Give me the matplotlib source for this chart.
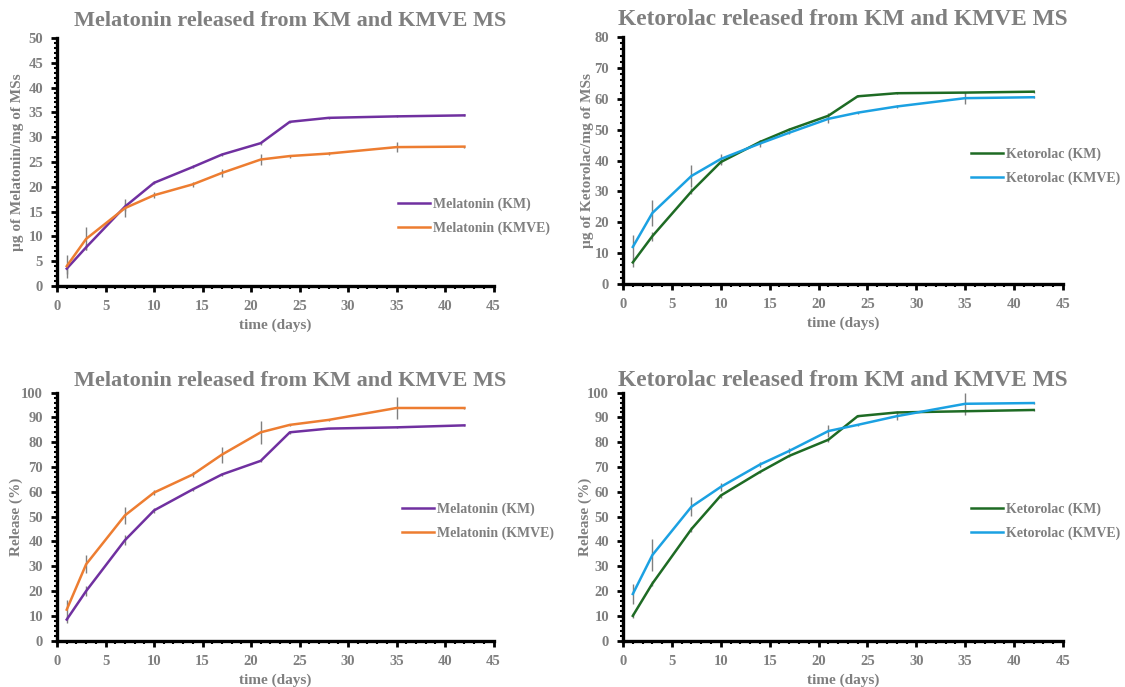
import matplotlib
matplotlib.use("Agg")
import matplotlib.pyplot as plt
from matplotlib.ticker import MultipleLocator

plt.rcParams.update({
    "font.family": "serif",
    "font.serif": ["Liberation Serif", "DejaVu Serif"],
    "font.weight": "bold",
})

GREY = "#7F7F7F"
PURPLE = "#7030A0"
ORANGE = "#ED7D31"
GREEN = "#1E6B24"
BLUE = "#1BA1E2"

DAYS = [1, 3, 7, 10, 14, 17, 21, 24, 28, 35, 42]

# top-left: melatonin amount (ug / mg MSs)
MEL_KM_UG = [3.5, 7.8, 16.0, 20.8, 24.0, 26.5, 28.8, 33.1, 33.9, 34.2, 34.4]
MEL_KM_UG_ERR = [1.0, 0.6, 0.8, 0.3, 0.3, 0.3, 0.3, 0.2, 0.2, 0.2, 0.2]
MEL_KMVE_UG = [4.0, 9.5, 15.7, 18.3, 20.5, 22.8, 25.5, 26.2, 26.7, 28.0, 28.1]
MEL_KMVE_UG_ERR = [2.3, 2.3, 1.8, 0.6, 0.5, 0.8, 1.2, 0.3, 0.3, 1.0, 0.2]

# top-right: ketorolac amount (ug / mg MSs)
KET_KM_UG = [7.0, 15.5, 30.0, 39.5, 46.0, 50.0, 54.5, 60.8, 61.8, 62.0, 62.3]
KET_KM_UG_ERR = [1.5, 1.5, 1.0, 0.8, 0.5, 0.5, 0.8, 0.3, 0.3, 0.3, 0.3]
KET_KMVE_UG = [12.0, 23.0, 35.0, 40.5, 45.5, 49.0, 53.5, 55.5, 57.5, 60.2, 60.5]
KET_KMVE_UG_ERR = [4.0, 4.2, 3.5, 1.5, 1.0, 0.5, 1.5, 0.3, 0.4, 1.8, 0.3]

# bottom-left: melatonin release (%)
MEL_KM_PCT = [8.5, 20.0, 40.5, 52.5, 61.0, 67.0, 72.5, 84.0, 85.5, 86.0, 86.8]
MEL_KM_PCT_ERR = [1.5, 2.0, 2.0, 1.0, 0.5, 0.5, 0.5, 0.5, 0.3, 0.3, 0.3]
MEL_KMVE_PCT = [12.5, 30.8, 50.5, 59.7, 67.0, 75.0, 84.0, 87.0, 89.0, 93.8, 93.8]
MEL_KMVE_PCT_ERR = [4.0, 3.7, 3.4, 1.0, 1.0, 3.2, 4.6, 0.5, 0.4, 4.5, 0.3]

# bottom-right: ketorolac release (%)
KET_KM_PCT = [10.0, 23.0, 45.0, 58.5, 68.0, 74.5, 81.0, 90.5, 92.0, 92.5, 93.0]
KET_KM_PCT_ERR = [1.0, 1.0, 1.0, 0.8, 0.5, 0.5, 0.8, 0.5, 0.5, 0.3, 0.3]
KET_KMVE_PCT = [18.8, 34.5, 54.0, 62.0, 71.0, 76.5, 84.5, 87.0, 90.5, 95.5, 95.8]
KET_KMVE_PCT_ERR = [4.2, 6.5, 3.8, 1.5, 1.0, 1.0, 2.5, 0.5, 1.5, 4.4, 0.3]

TITLE_MEL = "Melatonin released from KM and KMVE MS"
TITLE_KET = "Ketorolac released from KM and KMVE MS"


def draw(ax, series, ymax, ymajor, yminor, ylabel, ylabel_x, title, legend_xy,
         title_x, title_size, title_pad):
    handles, labels = [], []
    for y, err, color, label in series:
        cont = ax.errorbar(DAYS, y, yerr=err, color=color, lw=1.8, ecolor=GREY,
                           elinewidth=1.0, capsize=0, zorder=3)
        handles.append(cont[0])
        labels.append(label)
    ax.set_xlim(0, 45)
    ax.set_ylim(0, ymax)
    ax.xaxis.set_major_locator(MultipleLocator(5))
    ax.xaxis.set_minor_locator(MultipleLocator(1))
    ax.yaxis.set_major_locator(MultipleLocator(ymajor))
    ax.yaxis.set_minor_locator(MultipleLocator(yminor))
    for side in ("top", "right"):
        ax.spines[side].set_visible(False)
    for side in ("left", "bottom"):
        ax.spines[side].set_linewidth(2.4)
        ax.spines[side].set_color("black")
    ax.tick_params(which="major", direction="out", length=4, width=2.0,
                   color="black", labelcolor=GREY, labelsize=10.5, pad=6)
    ax.tick_params(which="minor", direction="out", length=2.5, width=1.5,
                   color="black")
    for lab in ax.get_xticklabels() + ax.get_yticklabels():
        lab.set_fontweight("bold")
    ax.set_xlabel("time (days)", color=GREY, fontsize=11, fontweight="bold",
                  labelpad=4)
    ax.set_ylabel(ylabel, color=GREY, fontsize=11, fontweight="bold")
    ax.yaxis.set_label_coords(ylabel_x, 0.5)
    ax.set_title(title, color=GREY, fontsize=title_size, fontweight="bold",
                 x=title_x, pad=title_pad)
    leg = ax.legend(handles, labels, loc="center left", bbox_to_anchor=legend_xy,
                    frameon=False, handlelength=2.3, handletextpad=0.2,
                    labelspacing=0.75, prop={"weight": "bold", "size": 10})
    for t in leg.get_texts():
        t.set_color(GREY)


fig = plt.figure(figsize=(11.25, 6.87), dpi=100)
ax_tl = fig.add_axes([0.0507, 0.5837, 0.388, 0.361])
ax_tr = fig.add_axes([0.5538, 0.5866, 0.3911, 0.3595])
ax_bl = fig.add_axes([0.0507, 0.0675, 0.388, 0.361])
ax_br = fig.add_axes([0.5538, 0.0675, 0.3911, 0.361])

draw(ax_tl,
     [(MEL_KM_UG, MEL_KM_UG_ERR, PURPLE, "Melatonin (KM)"),
      (MEL_KMVE_UG, MEL_KMVE_UG_ERR, ORANGE, "Melatonin (KMVE)")],
     50, 5, 1, "µg of Melatonin/mg of MSs", -0.076, TITLE_MEL, (0.752, 0.28),
     0.535, 16, 8.4)
draw(ax_tr,
     [(KET_KM_UG, KET_KM_UG_ERR, GREEN, "Ketorolac (KM)"),
      (KET_KMVE_UG, KET_KMVE_UG_ERR, BLUE, "Ketorolac (KMVE)")],
     80, 10, 2, "µg of Ketorolac/mg of MSs", -0.066, TITLE_KET, (0.763, 0.475),
     0.5, 16.8, 8.4)
draw(ax_bl,
     [(MEL_KM_PCT, MEL_KM_PCT_ERR, PURPLE, "Melatonin (KM)"),
      (MEL_KMVE_PCT, MEL_KMVE_PCT_ERR, ORANGE, "Melatonin (KMVE)")],
     100, 10, 2, "Release (%)", -0.078, TITLE_MEL, (0.762, 0.48),
     0.535, 16, 4.8)
draw(ax_br,
     [(KET_KM_PCT, KET_KM_PCT_ERR, GREEN, "Ketorolac (KM)"),
      (KET_KMVE_PCT, KET_KMVE_PCT_ERR, BLUE, "Ketorolac (KMVE)")],
     100, 10, 2, "Release (%)", -0.070, TITLE_KET, (0.763, 0.48),
     0.5, 16.8, 4.8)

fig.savefig("out.png", dpi=100)
